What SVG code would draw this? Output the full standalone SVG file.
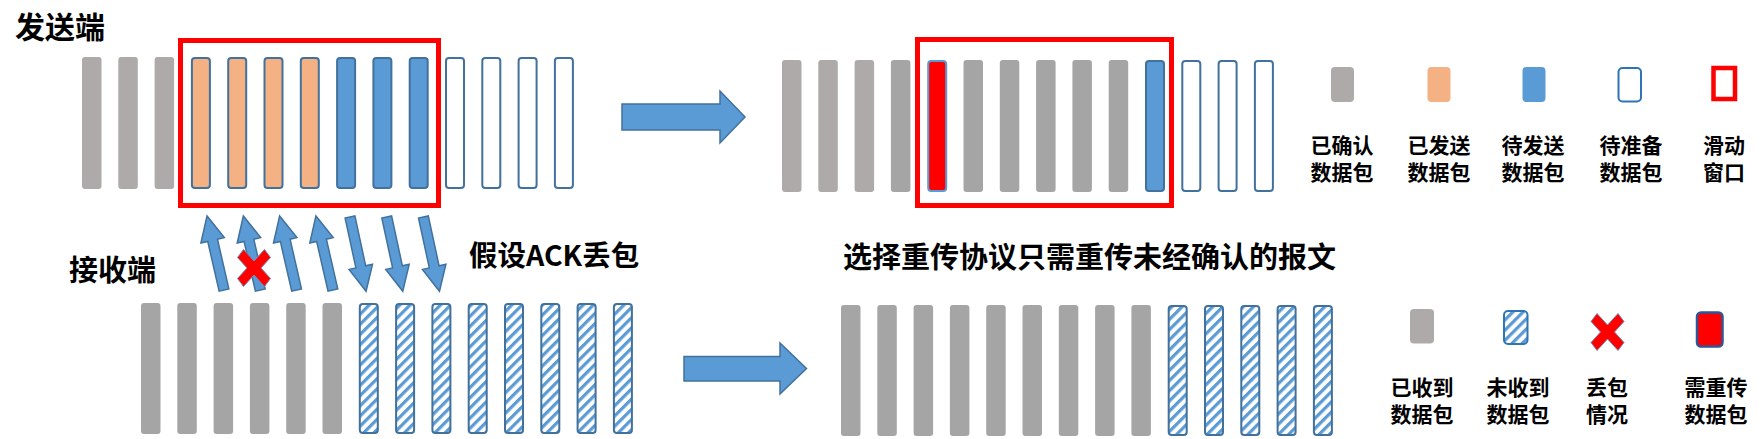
<svg xmlns="http://www.w3.org/2000/svg" width="1762" height="439" viewBox="0 0 1762 439">
<defs>
<style>
.g1{fill:#AEAAAA}
.g2{fill:#A5A5A5}
.or{fill:#F4B183;stroke:#41719C;stroke-width:2}
.bl{fill:#5B9BD5;stroke:#41719C;stroke-width:2}
.wh{fill:#FFFFFF;stroke:#41719C;stroke-width:2}
.st{fill:url(#stripe);stroke:#41719C;stroke-width:2}
.rd{fill:#FF0000;stroke:#5B9BD5;stroke-width:2}
.win{fill:none;stroke:#FF0000;stroke-width:5}
.arr{fill:#5B9BD5;stroke:#41719C;stroke-width:1.5;stroke-linejoin:miter}
.x{fill:#FF0000;stroke:#6F8FB5;stroke-width:1}
.t{font-family:"Noto Sans CJK SC","Noto Sans",sans-serif;font-weight:bold;fill:#000}
.title{font-size:29px}
.lg{font-size:21px;text-anchor:middle}
</style>
<pattern id="stripe" width="7.2" height="7.2" patternUnits="userSpaceOnUse" patternTransform="rotate(45)">
<rect width="7.2" height="7.2" fill="#FFFFFF"/>
<rect width="3.2" height="7.2" fill="#5B9BD5"/>
</pattern>
<polygon id="xshape" points="-16.5,-10.5 -10.5,-18.5 0,-7 10.5,-18.5 16.5,-10.5 7,0 16.5,10.5 10.5,18.5 0,7 -10.5,18.5 -16.5,10.5 -7,0"/>
<polygon id="slim" points="0,-5 51,-5 51,-12 76,0 51,12 51,5 0,5"/>
</defs>

<g id="labels">
<text class="t title" x="15" y="38" style="font-size:30px">发送端</text>
<text class="t title" x="69" y="281">接收端</text>
<text class="t title" x="469" y="266" style="font-size:28.5px">假设ACK丢包</text>
<text class="t title" x="843" y="268">选择重传协议只需重传未经确认的报文</text>
</g>

<g id="sender-before">
<rect class="g1" x="82" y="57" width="19.5" height="132" rx="3"/>
<rect class="g1" x="118.3" y="57" width="19.5" height="132" rx="3"/>
<rect class="g1" x="154.6" y="57" width="19.5" height="132" rx="3"/>
<rect class="or" x="191.9" y="58" width="18" height="130" rx="3"/>
<rect class="or" x="228.2" y="58" width="18" height="130" rx="3"/>
<rect class="or" x="264.5" y="58" width="18" height="130" rx="3"/>
<rect class="or" x="300.8" y="58" width="18" height="130" rx="3"/>
<rect class="bl" x="337.1" y="58" width="18" height="130" rx="3"/>
<rect class="bl" x="373.4" y="58" width="18" height="130" rx="3"/>
<rect class="bl" x="409.7" y="58" width="18" height="130" rx="3"/>
<rect class="wh" x="446" y="58" width="18" height="130" rx="3"/>
<rect class="wh" x="482.3" y="58" width="18" height="130" rx="3"/>
<rect class="wh" x="518.6" y="58" width="18" height="130" rx="3"/>
<rect class="wh" x="554.9" y="58" width="18" height="130" rx="3"/>
<rect class="win" x="180.5" y="40.5" width="258" height="165"/>
</g>

<g id="sender-after">
<rect class="g1" x="782" y="60" width="19.5" height="132" rx="3"/>
<rect class="g1" x="818.3" y="60" width="19.5" height="132" rx="3"/>
<rect class="g1" x="854.6" y="60" width="19.5" height="132" rx="3"/>
<rect class="g2" x="890.9" y="60" width="19.5" height="132" rx="3"/>
<rect class="rd" x="928.2" y="61" width="18" height="130" rx="3"/>
<rect class="g2" x="963.5" y="60" width="19.5" height="132" rx="3"/>
<rect class="g2" x="999.8" y="60" width="19.5" height="132" rx="3"/>
<rect class="g2" x="1036.1" y="60" width="19.5" height="132" rx="3"/>
<rect class="g2" x="1072.4" y="60" width="19.5" height="132" rx="3"/>
<rect class="g2" x="1108.7" y="60" width="19.5" height="132" rx="3"/>
<rect class="bl" x="1146" y="61" width="18" height="130" rx="3"/>
<rect class="wh" x="1182.3" y="61" width="18" height="130" rx="3"/>
<rect class="wh" x="1218.6" y="61" width="18" height="130" rx="3"/>
<rect class="wh" x="1254.9" y="61" width="18" height="130" rx="3"/>
<rect class="win" x="917.5" y="39.5" width="254" height="166"/>
</g>

<g id="receiver-before">
<rect class="g2" x="141" y="303" width="19.5" height="131" rx="3"/>
<rect class="g2" x="177.3" y="303" width="19.5" height="131" rx="3"/>
<rect class="g2" x="213.6" y="303" width="19.5" height="131" rx="3"/>
<rect class="g2" x="249.9" y="303" width="19.5" height="131" rx="3"/>
<rect class="g2" x="286.2" y="303" width="19.5" height="131" rx="3"/>
<rect class="g2" x="322.5" y="303" width="19.5" height="131" rx="3"/>
<rect class="st" x="359.8" y="304" width="18" height="129" rx="3"/>
<rect class="st" x="396.1" y="304" width="18" height="129" rx="3"/>
<rect class="st" x="432.4" y="304" width="18" height="129" rx="3"/>
<rect class="st" x="468.7" y="304" width="18" height="129" rx="3"/>
<rect class="st" x="505" y="304" width="18" height="129" rx="3"/>
<rect class="st" x="541.3" y="304" width="18" height="129" rx="3"/>
<rect class="st" x="577.6" y="304" width="18" height="129" rx="3"/>
<rect class="st" x="613.9" y="304" width="18" height="129" rx="3"/>
</g>

<g id="receiver-after">
<rect class="g2" x="841" y="305" width="19.5" height="131" rx="3"/>
<rect class="g2" x="877.3" y="305" width="19.5" height="131" rx="3"/>
<rect class="g2" x="913.6" y="305" width="19.5" height="131" rx="3"/>
<rect class="g2" x="949.9" y="305" width="19.5" height="131" rx="3"/>
<rect class="g2" x="986.2" y="305" width="19.5" height="131" rx="3"/>
<rect class="g2" x="1022.5" y="305" width="19.5" height="131" rx="3"/>
<rect class="g2" x="1058.8" y="305" width="19.5" height="131" rx="3"/>
<rect class="g2" x="1095.1" y="305" width="19.5" height="131" rx="3"/>
<rect class="g2" x="1131.4" y="305" width="19.5" height="131" rx="3"/>
<rect class="st" x="1168.7" y="306" width="18" height="129" rx="3"/>
<rect class="st" x="1205" y="306" width="18" height="129" rx="3"/>
<rect class="st" x="1241.3" y="306" width="18" height="129" rx="3"/>
<rect class="st" x="1277.6" y="306" width="18" height="129" rx="3"/>
<rect class="st" x="1313.9" y="306" width="18" height="129" rx="3"/>
</g>

<g id="connectors">
<polygon class="arr" points="622,104 720,104 720,91 745,117 720,143 720,130 622,130"/>
<polygon class="arr" points="684,356.5 780,356.5 780,343 806.5,368.5 780,394 780,381 684,381"/>
<use href="#slim" class="arr" transform="translate(224,290) rotate(-102.9)"/>
<use href="#slim" class="arr" transform="translate(260.3,290) rotate(-102.9)"/>
<use href="#slim" class="arr" transform="translate(296.6,290) rotate(-102.9)"/>
<use href="#slim" class="arr" transform="translate(332.9,290) rotate(-102.9)"/>
<use href="#slim" class="arr" transform="translate(350,217) rotate(77.8)"/>
<use href="#slim" class="arr" transform="translate(386.7,217) rotate(77.8)"/>
<use href="#slim" class="arr" transform="translate(423.4,217) rotate(77.8)"/>
</g>

<g id="ack-lost">
<use href="#xshape" class="x" transform="translate(254,268)"/>
</g>

<g id="legend-sender">
<g id="lg-acked">
<rect class="g1" x="1331" y="67" width="23" height="35" rx="4"/>
<text class="t lg" x="1342" y="153">已确认</text>
<text class="t lg" x="1342" y="180">数据包</text>
</g>
<g id="lg-sent">
<rect x="1427.5" y="67" width="23" height="35" rx="4" fill="#F4B183"/>
<text class="t lg" x="1439" y="153">已发送</text>
<text class="t lg" x="1439" y="180">数据包</text>
</g>
<g id="lg-tosend">
<rect x="1522.5" y="67" width="23" height="35" rx="4" fill="#5B9BD5"/>
<text class="t lg" x="1533" y="153">待发送</text>
<text class="t lg" x="1533" y="180">数据包</text>
</g>
<g id="lg-ready">
<rect x="1618.5" y="68" width="22.5" height="33.5" rx="4" fill="#FFFFFF" stroke="#2E75B6" stroke-width="2"/>
<text class="t lg" x="1631" y="153">待准备</text>
<text class="t lg" x="1631" y="180">数据包</text>
</g>
<g id="lg-window">
<rect x="1713.5" y="68" width="21.5" height="31" fill="none" stroke="#FF0000" stroke-width="4.5"/>
<text class="t lg" x="1724" y="153">滑动</text>
<text class="t lg" x="1724" y="180">窗口</text>
</g>
</g>

<g id="legend-receiver">
<g id="lg-received">
<rect class="g1" x="1410" y="309" width="24" height="34.5" rx="4"/>
<text class="t lg" x="1422" y="395">已收到</text>
<text class="t lg" x="1422" y="422">数据包</text>
</g>
<g id="lg-notreceived">
<rect x="1504" y="311" width="23.5" height="33" rx="4" fill="url(#stripe)" stroke="#2E75B6" stroke-width="2"/>
<text class="t lg" x="1518" y="395">未收到</text>
<text class="t lg" x="1518" y="422">数据包</text>
</g>
<g id="lg-lost">
<use href="#xshape" class="x" transform="translate(1607.5,332)"/>
<text class="t lg" x="1607" y="395">丢包</text>
<text class="t lg" x="1607" y="422">情况</text>
</g>
<g id="lg-resend">
<rect x="1697" y="312.5" width="25.5" height="34" rx="4" fill="#FF0000" stroke="#2F5597" stroke-width="2.5"/>
<text class="t lg" x="1716" y="395">需重传</text>
<text class="t lg" x="1716" y="422">数据包</text>
</g>
</g>
</svg>
